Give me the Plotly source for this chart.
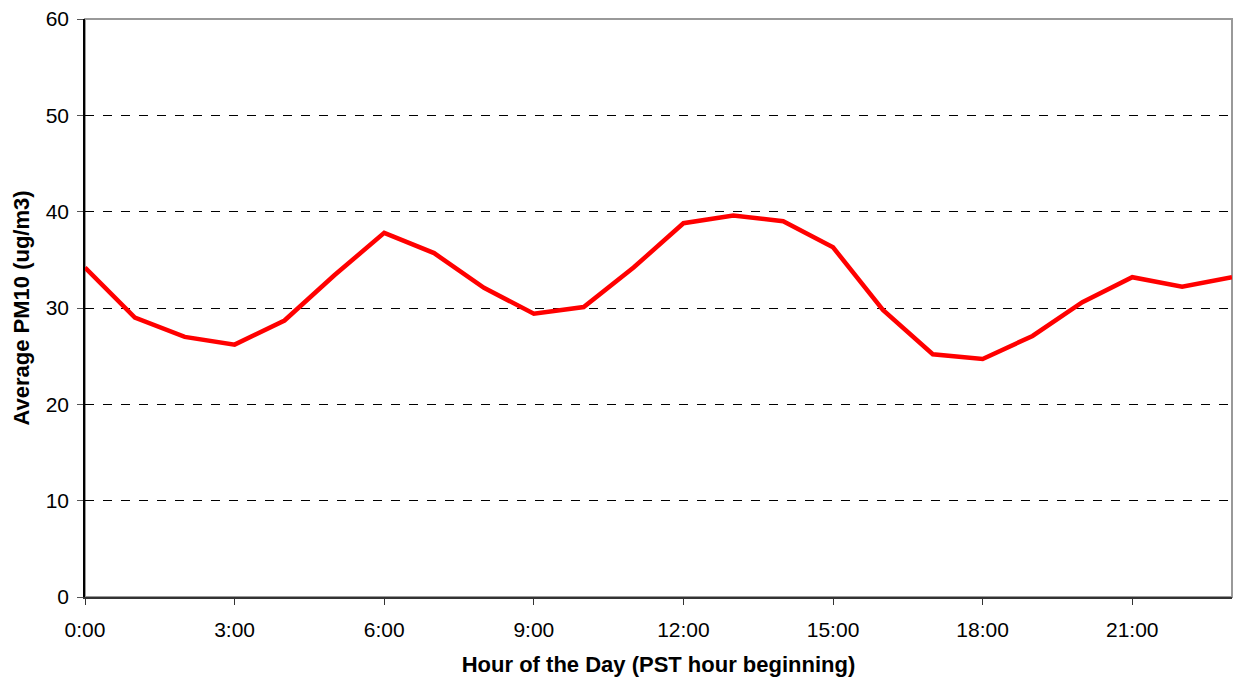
import plotly.graph_objects as go

# 每小时平均 PM10
hours = list(range(24))
pm10 = [34.2, 29.0, 27.0, 26.2, 28.7, 33.4, 37.8, 35.7, 32.1, 29.4,
        30.1, 34.2, 38.8, 39.6, 39.0, 36.3, 29.8, 25.2, 24.7, 27.1,
        30.6, 33.2, 32.2, 33.2]
tick_hours = [0, 3, 6, 9, 12, 15, 18, 21]
tick_labels = [f"{h}:00" for h in tick_hours]

font_family = "Liberation Sans, Arial, sans-serif"

fig = go.Figure(go.Scatter(
    x=hours, y=pm10,
    mode="lines",
    line={"color": "#FF0000", "width": 4.5},
    showlegend=False,
))

# 页面 body 自带 8px 边距，这里把尺寸收一点
fig.update_layout(
    width=1232, height=672,
    margin=dict(l=77, r=8, t=11, b=83),
    plot_bgcolor="white",
    paper_bgcolor="white",
    font={"family": font_family, "size": 21, "color": "black"},
    xaxis=dict(
        range=[0, 23], automargin=False,
        tickmode="array", tickvals=tick_hours, ticktext=tick_labels,
        ticks="outside", ticklen=6, tickcolor="#333",
        ticklabelstandoff=7,
        showline=True, linecolor="#333", linewidth=2,
        showgrid=False, zeroline=False,
        title=dict(text="<b>Hour of the Day (PST hour beginning)</b>",
                   font={"size": 22}, standoff=16),
    ),
    yaxis=dict(
        range=[0, 60], dtick=10, automargin=False,
        ticks="outside", ticklen=6, tickcolor="#555",
        ticklabelstandoff=4, ticklabeloverflow="allow",
        showline=True, linecolor="black", linewidth=1.5,
        showgrid=True, gridcolor="black", griddash="dash", gridwidth=1,
        zeroline=False,
        title=dict(text="<b>Average PM10 (ug/m3)</b>",
                   font={"size": 22}, standoff=10),
    ),
    shapes=[dict(type="rect", xref="paper", yref="paper",
                 x0=0, x1=1, y0=0, y1=1,
                 line={"color": "#999", "width": 2}, layer="below")],
)

fig.write_html("out.html")
